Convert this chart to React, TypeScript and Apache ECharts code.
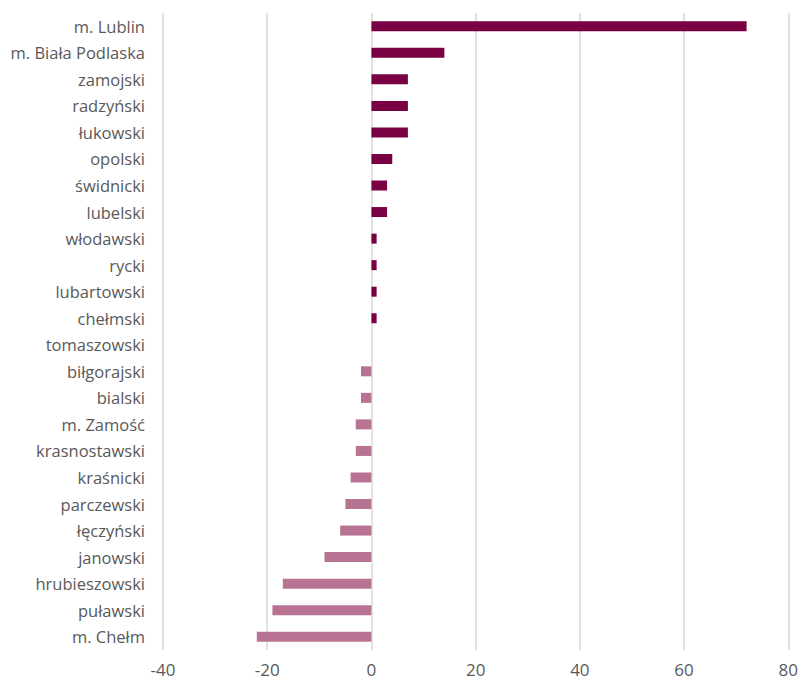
import React, { useEffect, useRef } from "react";
import * as echarts from "echarts";

const categories = [
  "m. Lublin", "m. Biała Podlaska", "zamojski", "radzyński", "łukowski", "opolski",
  "świdnicki", "lubelski", "włodawski", "rycki", "lubartowski", "chełmski",
  "tomaszowski", "biłgorajski", "bialski", "m. Zamość", "krasnostawski", "kraśnicki",
  "parczewski", "łęczyński", "janowski", "hrubieszowski", "puławski", "m. Chełm",
];
const values = [72, 14, 7, 7, 7, 4, 3, 3, 1, 1, 1, 1, 0, -2, -2, -3, -3, -4, -5, -6, -9, -17, -19, -22];
const xTicks = { min: -40, max: 80, interval: 20 };

export default function App() {
  const ref = useRef<HTMLDivElement>(null);
  useEffect(() => {
    const chart = echarts.init(ref.current!, undefined, { renderer: "svg" });
    chart.setOption({
      animation: false,
      textStyle: { fontFamily: "Open Sans" },
      grid: { left: 163, right: 11, top: 13, bottom: 32, containLabel: false },
      xAxis: {
        type: "value",
        min: xTicks.min,
        max: xTicks.max,
        interval: xTicks.interval,
        axisLine: { show: false },
        axisTick: { show: false },
        splitLine: { show: true, lineStyle: { color: "#d9d9d9", width: 1.5 } },
        axisLabel: { color: "#595959", fontSize: 17, margin: 11 },
      },
      yAxis: {
        type: "category",
        data: categories,
        inverse: true,
        axisLine: { show: false },
        axisTick: { show: false },
        axisLabel: { color: "#595959", fontSize: 16.5, margin: 18 },
      },
      series: [
        {
          type: "bar",
          data: values,
          barWidth: 10,
          itemStyle: {
            color: (p: any) => (p.value >= 0 ? "#7a0044" : "#b87393"),
          },
        },
      ],
    });
    return () => chart.dispose();
  }, []);
  return <div ref={ref} style={{ width: 801, height: 682, position: "absolute", left: 0, top: 0 }} />;
}
